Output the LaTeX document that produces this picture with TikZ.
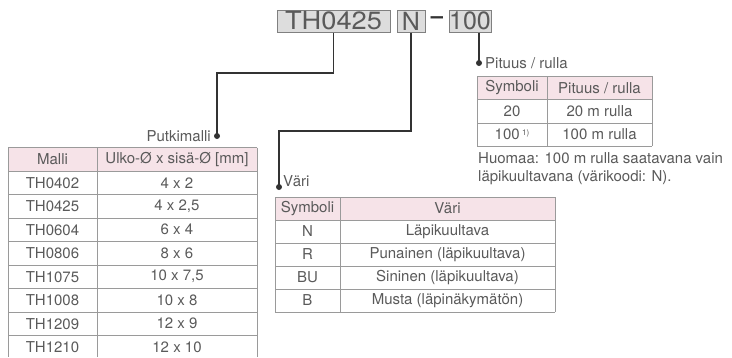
\documentclass[tikz,border=0pt]{standalone}
\usepackage{fontspec}
\setmainfont{TeX Gyre Heros}
\definecolor{txtgray}{HTML}{5A5A5A}
\definecolor{linegray}{HTML}{9A9A9A}
\definecolor{hdrpink}{HTML}{F6E3E8}
\definecolor{boxfill}{HTML}{DDDDDD}
\definecolor{boxline}{HTML}{808080}
\definecolor{conngray}{HTML}{333333}
\begin{document}
\begin{tikzpicture}[x=1pt,y=-1pt,
  txt/.style={text=txtgray, font=\fontsize{15}{18}\selectfont, inner sep=0pt},
  grid/.style={draw=linegray, line width=0.8pt},
  conn/.style={draw=conngray, line width=1.3pt},
  dotc/.style={circle, fill=conngray, inner sep=0pt, minimum size=6pt},
  topbox/.style={draw=boxline, fill=boxfill, line width=1pt, inner sep=0pt,
    text=txtgray, font=\fontsize{25}{25}\selectfont, minimum height=22pt}]
\useasboundingbox (0,0) rectangle (732,357);

% top code boxes
\node[topbox, minimum width=113pt] (bmodel) at (333.5,21) {\scalebox{1.09}[1]{TH0425}};
\node[topbox, minimum width=28pt] (bcolor) at (411,21) {N};
\node[topbox, minimum width=42pt] (blen) at (470,21) {100};
\node[text=conngray, font=\bfseries\fontsize{22}{22}\selectfont, inner sep=0pt] (dash) at (437,20) {\textendash};

% dots and labels
\node[dotc] (dot1) at (217,136) {};
\node[dotc] (dot2) at (279,187) {};
\node[dotc] (dot3) at (479,63) {};
\node[txt, anchor=east] (lblmodel) at (211,136) {Putkimalli};
\node[txt, anchor=base west] (lblcolor) at (283,186) {Väri};
\node[txt, anchor=west] (lbllen) at (485,63) {Pituus / rulla};

% connectors
\draw[conn] (bmodel.south) -- (333.5,73) -| (dot1.center);
\draw[conn] (bcolor.south) -- (411,131) -| (dot2.center);
\draw[conn] (dot3 |- blen.south) -- (dot3.center);

% left table: Malli
\fill[hdrpink] (8,147.5) rectangle (257,171);
\foreach \k in {0,...,8} \draw[grid] (8,147.5+23.5*\k) -- (257,147.5+23.5*\k);
\foreach \x in {8,97,257} \draw[grid] (\x,147.5) -- (\x,357);
\node[txt] (mh1) at (52.5,159.25) {Malli};
\node[txt] (mh2) at (177,159.25) {Ulko-Ø x sisä-Ø [mm]};
\foreach \a/\b [count=\i] in {TH0402/4 x 2, TH0425/{4 x 2,5}, TH0604/6 x 4, TH0806/8 x 6,
    TH1075/{10 x 7,5}, TH1008/10 x 8, TH1209/12 x 9, TH1210/12 x 10} {
  \node[txt] (ma\i) at (52.5,159.25+23.5*\i) {\a};
  \node[txt] (mb\i) at (177,159.25+23.5*\i) {\b};
}

% colour table
\fill[hdrpink] (275,197) rectangle (555,220);
\foreach \k in {0,...,5} \draw[grid] (275,197+23*\k) -- (555,197+23*\k);
\foreach \x in {275,340,555} \draw[grid] (\x,197) -- (\x,312);
\node[txt] (vh1) at (307.5,208.5) {Symboli};
\node[txt] (vh2) at (447.5,208.5) {Väri};
\foreach \a/\b [count=\i] in {N/Läpikuultava, R/Punainen (läpikuultava),
    BU/Sininen (läpikuultava), B/Musta (läpinäkymätön)} {
  \node[txt] (va\i) at (307.5,208.5+23*\i) {\a};
  \node[txt] (vb\i) at (447.5,208.5+23*\i) {\b};
}

% length table
\fill[hdrpink] (477,76) rectangle (652,99.5);
\foreach \y in {76,99.5,123,146} \draw[grid] (477,\y) -- (652,\y);
\foreach \x in {477,547,652} \draw[grid] (\x,76) -- (\x,146);
\node[txt] (ph1) at (512,87.75) {Symboli};
\node[txt] (ph2) at (599.5,87.75) {Pituus / rulla};
\node[txt] (pa1) at (512,111.25) {20};
\node[txt] (pb1) at (599.5,111.25) {20 m rulla};
\node[txt] (pa2) at (512,134.5) {100\,\raisebox{0.5ex}{\fontsize{8}{8}\selectfont 1)}};
\node[txt] (pb2) at (599.5,134.5) {100 m rulla};

\node[txt, anchor=base west] (note1) at (478,163.5) {Huomaa: 100 m rulla saatavana vain};
\node[txt, anchor=base west] (note2) at (478,181.5) {läpikuultavana (värikoodi: N).};
\end{tikzpicture}
\end{document}
